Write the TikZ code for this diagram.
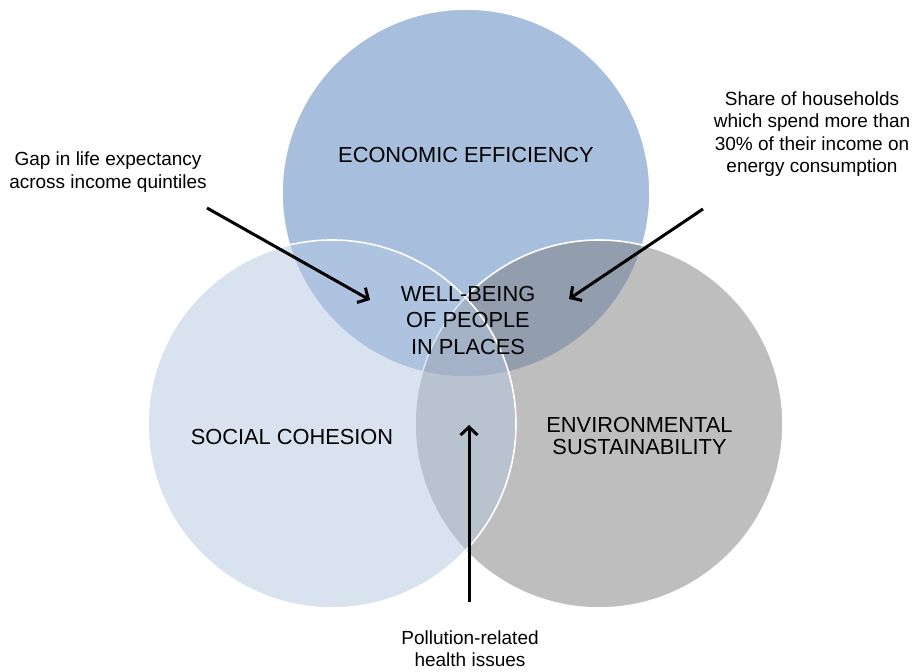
\documentclass[tikz,border=0pt]{standalone}
\usepackage{fontspec}
\setmainfont{Liberation Sans}
\usetikzlibrary{arrows.meta}

\definecolor{econblue}{RGB}{167,191,221}
\definecolor{socialblue}{RGB}{181,199,225}
\definecolor{envirgrey}{RGB}{127,127,127}

\begin{document}
\begin{tikzpicture}[x=0.5pt, y=-0.5pt]
    \tikzstyle{ring}=[draw=white, line width=0.8pt];
    \tikzstyle{big}=[align=center, inner sep=0pt, font=\fontsize{10.9}{13.25}\selectfont];
    \tikzstyle{small}=[align=center, inner sep=0pt, font=\fontsize{9.5}{11.2}\selectfont];
    \tikzstyle{pointer}=[line width=1.5pt, -{Straight Barb[length=4pt, width=8.5pt]}];

    \useasboundingbox (0,0) rectangle (914,672);
    \fill[white] (0,0) rectangle (914,672);

    \filldraw[ring, fill=econblue] (466,193) circle (92pt);
    \filldraw[ring, fill=envirgrey, fill opacity=0.5] (599,424) circle (92pt);
    \filldraw[ring, fill=socialblue, fill opacity=0.5] (332,424) circle (92pt);

    \node[big] (econ) at (466,155) {ECONOMIC EFFICIENCY};
    \node[big] (wellbeing) at (468,320) {WELL-BEING\\OF PEOPLE\\IN PLACES};
    \node[big] (social) at (292,437) {SOCIAL COHESION};
    \node[big, font=\fontsize{10.9}{11}\selectfont] (envir) at (639.5,436)
    {ENVIRONMENTAL\\SUSTAINABILITY};

    \node[small] (gap) at (108,172) {Gap in life expectancy\\across income quintiles};
    \node[small] (share) at (812,134)
    {Share of households\\which spend more than\\30\% of their income on\\energy consumption};
    \node[small] (pollution) at (470,649) {Pollution-related\\health issues};

    \coordinate (gapfrom) at (207,208);
    \coordinate (gapto) at (370,300);
    \coordinate (sharefrom) at (703,209);
    \coordinate (shareto) at (569,299);
    \coordinate (pollfrom) at (469,602);
    \coordinate (pollto) at (469,425);

    \draw[pointer] (gapfrom) -- (gapto);
    \draw[pointer] (sharefrom) -- (shareto);
    \draw[pointer] (pollfrom) -- (pollto);
\end{tikzpicture}
\end{document}
